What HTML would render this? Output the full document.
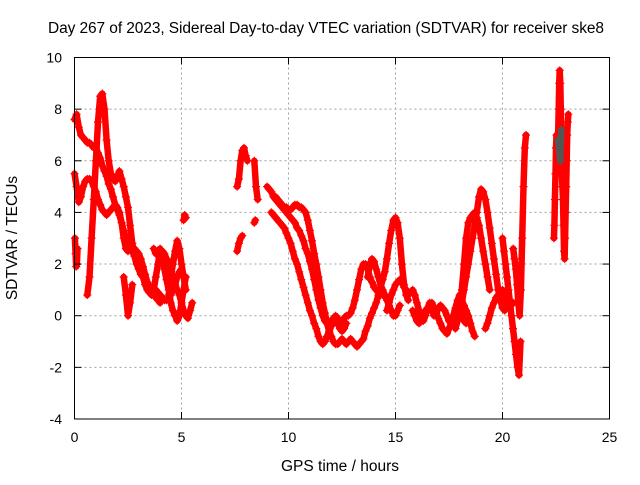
<!DOCTYPE html>
<html><head><meta charset="utf-8"><style>
body{margin:0;background:#fff}
svg text{font-family:"Liberation Sans",sans-serif;font-size:14px;fill:#000}
svg text.big{font-size:15.5px}
</style></head><body>
<svg width="640" height="480" viewBox="0 0 640 480">
<rect width="640" height="480" fill="#fff"/>
<g id="grid"></g>
<g id="marks"></g>
<rect x="74.5" y="57.5" width="535" height="361.5" fill="none" stroke="#000" stroke-width="1"/>
<g id="ticks"></g>
<text class="big" x="326" y="33" text-anchor="middle" textLength="556">Day 267 of 2023, Sidereal Day-to-day VTEC variation (SDTVAR) for receiver ske8</text>
<text class="big" x="340" y="471" text-anchor="middle">GPS time / hours</text>
<text class="big" x="17" y="238" text-anchor="middle" transform="rotate(-90 17 238)">SDTVAR / TECUs</text>
</svg>
<script>
const xTicks=[0,5,10,15,20,25];
const yTicks=[-4,-2,0,2,4,6,8,10];
// arcs: [startHour, stepHours, values...]
const arc1=[0,0.1,7.6,7.8,7.3,7.0,6.9,6.8,6.7,6.7,6.6,6.5,6.5,6.3,6.1,5.8,5.6,5.4,5.1,4.9,4.6,4.3,4.1,3.9,3.6,3.3,3.0,2.8,2.7,2.6,2.6,2.5,2.4,2.2,1.9,1.6,1.3,1.1,0.9,0.8,0.7,0.6,0.5];
const arc2=[0,0.1,5.5,5.0,4.4,4.6,5.0,5.2,5.3,5.3,5.2,5.0,4.8,4.5,4.3,4.1,4.0,3.9,4.0,4.1,4.2,4.3,4.2,4.0,3.6,3.0,2.6,2.5,2.6,2.5,2.3,2.0,1.8,1.6,1.5,1.3,1.2,1.1,1.0,1.0,1.0,0.9,0.8,0.7,0.6,0.6,0.7,0.8,1.0,1.2,1.5,1.7,1.8];
const arc3=[0.6,0.1,0.8,1.5,3.0,4.5,6.0,7.5,8.5,8.6,8.0,6.8,6.0,5.5,5.3,5.2,5.4,5.6,5.3,5.0,4.6,4.2,3.5,2.8,2.4,2.2,2.0,1.8,1.5,1.2,1.0,0.9,0.8,1.0,1.5,2.0,2.5,2.5,2.4,2.2,2.0,1.8,1.5,1.2,1.0,0.8,0.5,0.2,0,-0.1,0.2,0.5];
const arc4=[0.02,0.03,3.0,2.4,1.9,2.0,2.6];
const arc5=[2.3,0.1,1.5,0.8,0.0,0.5,1.2];
const arc6=[3.7,0.1,2.6,2.4,2.5,2.6,2.3,1.8,1.4,1.0,0.5,0.2,0.0,-0.2,0.0,0.5,1.0,1.5];
const arc7=[4.4,0.1,0.8,1.5,2.0,2.5,2.9,2.6,2.0,1.5,1.0];
const arc8=[5.1,0.05,3.7,3.9,3.8];
const arc9=[7.6,0.08,5.0,5.3,6.0,6.4,6.5,6.2,6.0];
const arc10=[7.6,0.08,2.5,2.8,3.0,3.1];
const arc11=[8.4,0.08,6.0,5.0,4.5];
const arc12=[8.4,0.05,3.6,3.7];
const arc13=[9.0,0.1,5.0,4.9,4.8,4.6,4.5,4.4,4.3,4.2,4.1,4.0,3.9,3.8,3.7,3.6,3.4,3.3,3.1,2.9,2.6,2.4,2.1,1.8,1.4,1.0,0.6,0.3,0.0,-0.2,-0.3,-0.3,-0.2,-0.1,0.0,-0.1,-0.2,-0.2,-0.1,0.0,0.0,0.1,0.3,0.6,1.0,1.4,1.8,2.0,2.0,1.8,1.5,1.3,1.1,1.0,0.9,0.8,0.8,0.8,0.7];
const arc14=[9.4,0.1,4.6,4.5,4.4,4.3,4.2,4.2,4.1,4.1,4.2,4.3,4.3,4.2,4.2,4.1,4.0,3.7,3.3,2.9,2.4,2.0,1.5,1.0,0.5,0.1,-0.3,-0.6,-0.8,-1.0,-1.1,-1.1,-1.0,-0.9,-1.0,-1.1,-1.0,-0.9,-1.0,-1.1,-1.2,-1.1,-1.0,-0.9,-0.6,-0.4,-0.1,0.1,0.3,0.5,0.8,1.1,1.4,1.7,2.2,2.8,3.3,3.7,3.8,3.6,3.0,2.0,1.2,0.8,0.6];
const arc15=[9.2,0.1,4.0,3.9,3.8,3.7,3.6,3.5,3.4,3.2,3.0,2.8,2.5,2.2,2.0,1.7,1.4,1.1,0.8,0.5,0.2,0,-0.3,-0.5,-0.8,-1.0,-1.1,-1.0,-0.8,-0.6,-0.4,-0.2,-0.2,-0.3,-0.5,-0.6,-0.5,-0.3];
const arc16=[13.7,0.1,1.5,2.0,2.2,2.1,1.8,1.5,1.2,1.0,0.8,0.6,0.4,0.2,0.0,0.0,0.2,0.4];
const arc17=[14.6,0.1,0.2,0.5,0.8,1.0,1.2,1.3,1.4,1.3,1.1,1.0,0.8,0.9,1.0,0.8,0.5,0.2,0.0,-0.2,0.0,0.3,0.5,0.2,0.0,0.1,0.3,0.4,0.3,0.2,0.0,-0.2,-0.3,-0.1,0.2,0.4,0.2,0.0,-0.2,-0.3];
const arc18=[15.8,0.1,0.2,0.0,-0.2,-0.3,-0.2,0.0,0.2,0.3,0.4,0.5,0.3,0.1,-0.1,-0.3,-0.5,-0.6,-0.7,-0.5,-0.3,0.0,0.3,0.6,0.8,0.6,0.4,0.2,0.0,-0.3,-0.6,-0.8];
const arc19=[17.8,0.1,-0.5,-0.2,0.3,1.0,2.0,3.0,3.6,3.8,3.9,4.0,3.8,3.5,3.0,2.5,2.0,1.5,1.0];
const arc20=[18.0,0.1,0.0,0.5,1.0,1.5,2.0,2.5,3.0,3.5,4.0,4.6,4.9,4.8,4.5,4.0,3.4,2.8,2.2,1.6,1.0,0.6,0.3,0.2,0.4,0.6,0.5];
const arc21=[19.2,0.1,-0.5,-0.3,0,0.3,0.5,0.7,0.8,0.9,1.0,0.8,0.5,0.3,0.4,0.5];
const arc22=[20.0,0.07,3.0,2.5,2.0,1.5,1.0,0.5,0.0,-0.5,-1.0,-1.5,-2.0,-2.3,-1.0];
const arc23=[20.5,0.06,2.6,2.2,1.8,1.2,0.5,0.0,1.0,3.0,5.0,6.5,7.0];
const arc24=[22.4,0.025,3.0,3.5,4.5,5.5,6.5,7.0,6.5,6.0,7.0,8.0,9.0,9.5,9.0,8.0,6.5,5.5,5.0,4.5,3.5,2.5,2.2,3.0,4.0,5.0,6.0,7.0,7.5,7.8];
const redArcs=[arc1,arc2,arc3,arc4,arc5,arc6,arc7,arc8,arc9,arc10,arc11,arc12,arc13,arc14,arc15,arc16,arc17,arc18,arc19,arc20,arc21,arc22,arc23,arc24];
const grayArc=[22.6,0.05,6.8,6.4,6.0,7.2];

const X=t=>74.5+t*21.4;
const Y=v=>57.5+(10-v)*25.82;
const NS='http://www.w3.org/2000/svg';
const grid=document.getElementById('grid'),ticks=document.getElementById('ticks'),marks=document.getElementById('marks');
function mk(tag,attrs,parent){const e=document.createElementNS(NS,tag);for(const k in attrs)e.setAttribute(k,attrs[k]);parent.appendChild(e);return e;}
xTicks.forEach(t=>{
  const x=X(t);
  if(t>0&&t<25){const g=mk('line',{x1:x,x2:x,y1:57.5,y2:419,stroke:'#a0a0a0','stroke-dasharray':'2,3'},grid);
    
    }
  mk('line',{x1:x,x2:x,y1:419,y2:412,stroke:'#000'},ticks);
  mk('line',{x1:x,x2:x,y1:57.5,y2:64.5,stroke:'#000'},ticks);
  const l=mk('text',{x:x,y:442,'text-anchor':'middle'},ticks);l.textContent=t;
  
  
});
yTicks.forEach(v=>{
  const y=Y(v);
  if(v>-4&&v<10){const g=mk('line',{x1:74.5,x2:609.5,y1:y,y2:y,stroke:'#a0a0a0','stroke-dasharray':'2,3'},grid);
    
    }
  mk('line',{x1:74.5,x2:81.5,y1:y,y2:y,stroke:'#000'},ticks);
  mk('line',{x1:602.5,x2:609.5,y1:y,y2:y,stroke:'#000'},ticks);
  const l=mk('text',{x:62,y:y+5,'text-anchor':'end'},ticks);l.textContent=v;
  
  
});
function drawArc(a,color,name){
  let d='',pl='';
  for(let i=2;i<a.length;i++){const x=X(a[0]+(i-2)*a[1]),y=Y(a[i]);
    pl+=(i===2?'M':'L')+x.toFixed(1)+' '+y.toFixed(1);
    d+=`M${(x-4).toFixed(1)} ${y.toFixed(1)}h8M${x.toFixed(1)} ${(y-4).toFixed(1)}v8`;}
  const band=mk('path',{d:pl,stroke:color,'stroke-width':6.5,fill:'none','stroke-linejoin':'round','stroke-linecap':'round'},marks);
  
  
  const p=mk('path',{d:d,stroke:color,'stroke-width':1.2,fill:'none'},marks);
  
  
}
redArcs.forEach(a=>drawArc(a,'#ff0000','satellite-arc'));
drawArc(grayArc,'#555555','gray-points');
</script>
</body></html>
